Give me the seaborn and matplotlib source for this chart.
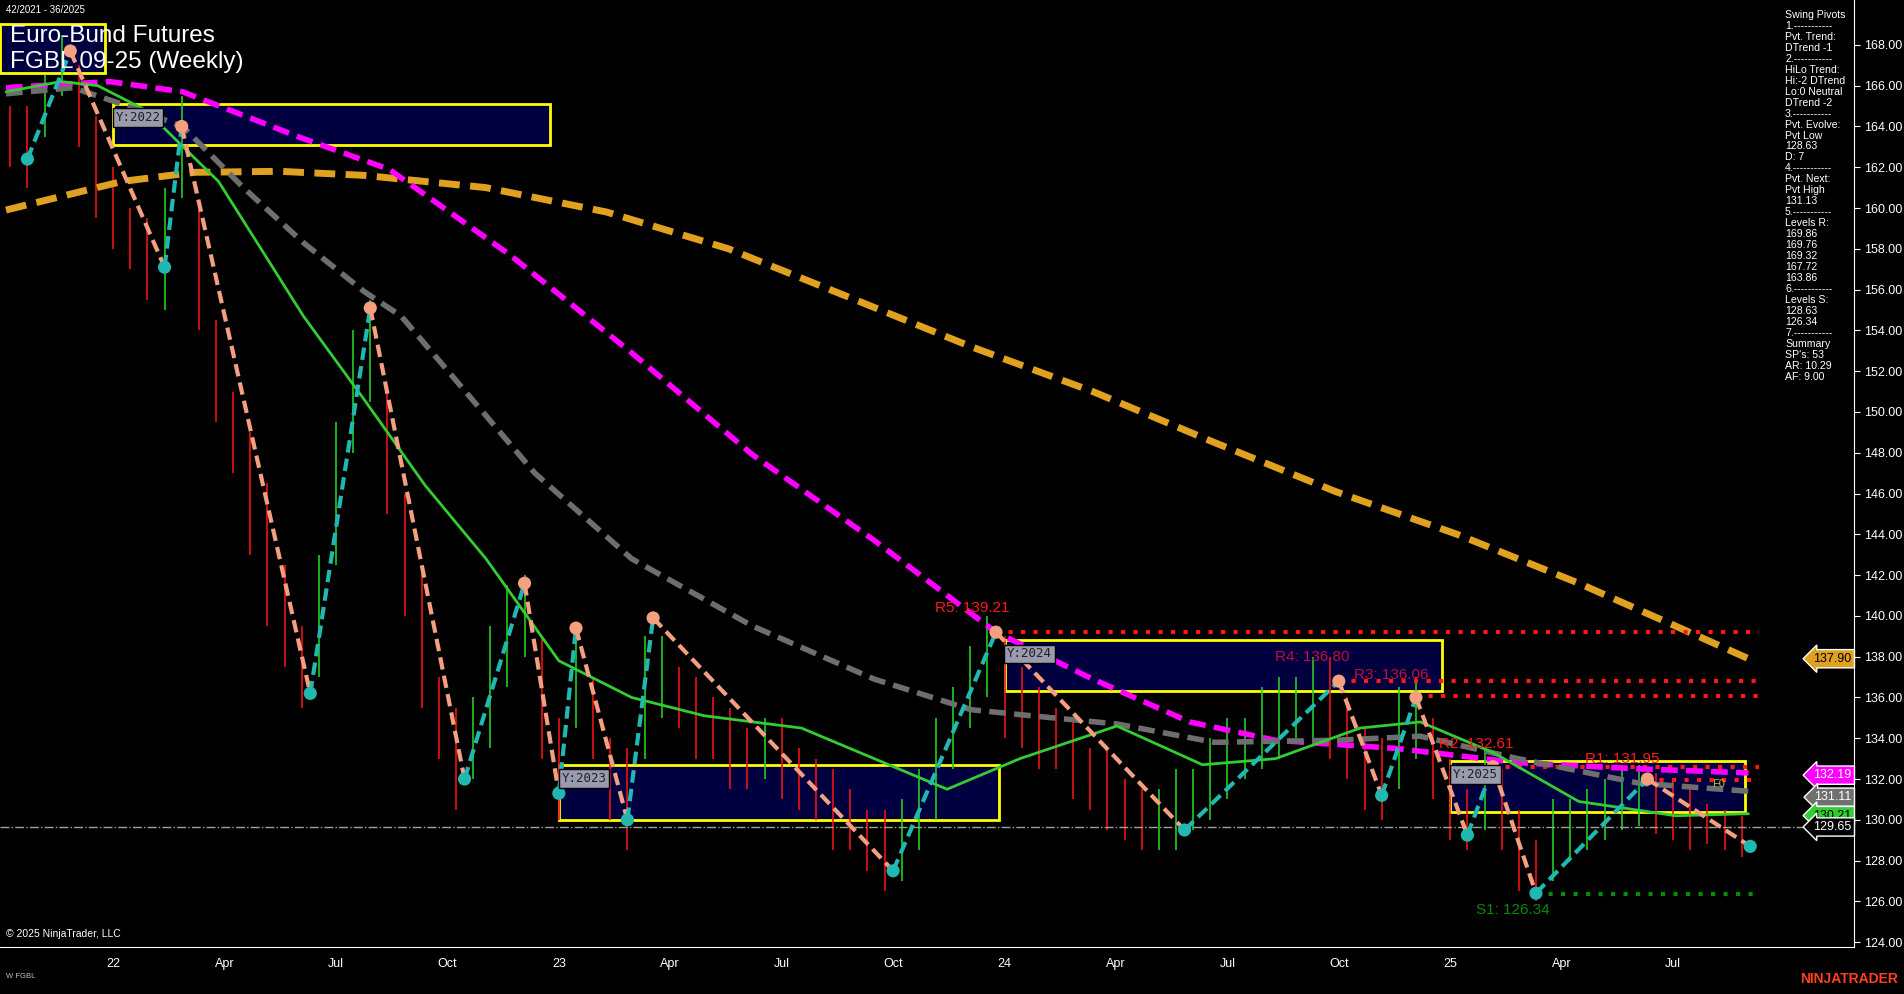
import numpy as np
import matplotlib
matplotlib.use('Agg')
import matplotlib.pyplot as plt
import seaborn as sns

sns.set_style('dark')
plt.rcParams['font.family'] = ['Liberation Sans', 'DejaVu Sans']

# ---- data (x = weeks since start of 2022) ----
bar_weeks = list(range(-12, 191, 2))
bar_mid = [163.5, 163, 165, 167, 165, 162, 160, 158.5, 157.5, 158, 163, 157, 152, 149, 146, 143,
           140, 137.5, 140, 146, 151, 153, 148, 143, 139, 135, 133, 134, 136.5, 139, 140, 136,
           132.5, 137, 135, 132, 131, 136, 137, 136, 135, 134.5, 133.5, 133, 133.5, 133, 132,
           131.5, 130.5, 130, 129, 128.5, 129, 130.5, 132.5, 134.5, 136.5, 138, 136.5, 135.5,
           134.5, 134, 133, 132, 131.5, 130.5, 130, 130, 130.5, 131, 132, 133, 133.5, 134.5,
           135, 135.5, 136, 135.5, 134, 132.5, 132, 134, 135, 133, 131, 130, 131.5, 130.5,
           128.5, 127.5, 129, 129.5, 130, 130.5, 131, 131.2, 130.8, 130.5, 130, 129.8, 129.5, 129.2]
bar_range = [1.5, 2, 1.5, 1.5, 2, 2.5, 2, 1.5, 2, 3, 2.5, 3, 2.5, 2, 3, 3.5,
             2.5, 2, 3, 3.5, 3, 2.5, 3, 3, 3.5, 2, 2.5, 2, 3, 2.5, 2, 3,
             2.5, 2.5, 2, 2, 2.5, 3, 2, 1.5, 2, 1.5, 2, 1.5, 1.5, 2, 1.5,
             1.5, 2, 1.5, 1.5, 2, 2, 2, 2.5, 2, 2, 2, 2.5, 2,
             2, 1.5, 2, 1.5, 2, 1.5, 1.5, 1.5, 2, 1.5, 2, 2, 1.5, 2,
             2, 1.5, 2, 2.5, 2, 2, 2, 2.5, 2, 2, 2, 1.5, 2, 2,
             2, 1.5, 2, 1.5, 1.5, 1.5, 1.5, 1.5, 1.5, 1.5, 1.5, 1, 1, 1]

piv_weeks = [-10, -5, 6, 8, 23, 30, 41, 48, 52, 54, 60, 63, 91, 103, 125, 143, 148, 152, 158, 161, 166, 179, 191]
piv_price = [162.4, 167.7, 157.1, 164.0, 136.2, 155.1, 132.0, 141.6, 131.3, 139.4, 130.0, 139.9, 127.5,
             139.2, 129.5, 136.8, 131.2, 136.0, 129.25, 132.6, 126.4, 132.0, 128.7]
piv_type = ['L', 'H', 'L', 'H', 'L', 'H', 'L', 'H', 'L', 'H', 'L', 'H', 'L', 'H', 'L', 'H', 'L', 'H', 'L', 'H', 'L', 'H', 'L']

mag_w = [-12.5, -0.4, 8.1, 22.2, 32.2, 46.3, 60.5, 74.6, 88.8, 103, 114.3, 125.6, 135.6, 149.7, 163.9, 178, 190.8]
mag_p = [165.9, 166.2, 165.7, 163.4, 161.9, 157.7, 152.9, 147.9, 143.7, 139.2, 136.9, 134.8, 133.9, 133.5, 132.8, 132.5, 132.3]
org_w = [-12.5, 1, 9.5, 19.4, 29.3, 43.5, 57.6, 71.8, 86, 100.1, 114.3, 128.5, 142.6, 156.8, 171, 182.3, 190.8]
org_p = [159.9, 161.3, 161.75, 161.8, 161.6, 161.0, 159.8, 158.0, 155.6, 153.2, 151.0, 148.5, 146.1, 144.0, 141.6, 139.5, 137.9]
gry_w = [-12.5, -4.7, 1, 8.1, 15.2, 22.2, 29.3, 33.6, 40.7, 49.2, 60.5, 74.6, 88.8, 100.1, 107.2, 117.1, 128.5, 142.6, 152.5, 163.9, 178, 190.8]
gry_p = [165.6, 165.9, 165.1, 164.0, 161.0, 158.3, 155.9, 154.7, 151.2, 147.0, 142.8, 139.5, 136.9, 135.4, 135.1, 134.7, 133.8, 133.9, 134.1, 133.0, 131.8, 131.4]
grn_w = [-12.5, -6.1, -1.8, 3.8, 12.3, 22.2, 29.3, 36.4, 43.5, 52, 60.5, 69, 80.3, 88.8, 97.3, 105.8, 117.1, 127.1, 135.6, 145.5, 152.5, 161, 171, 182.3, 190.8]
grn_p = [165.7, 166.2, 166.0, 164.8, 161.3, 154.7, 150.6, 146.4, 142.8, 137.8, 136.0, 135.1, 134.5, 133.0, 131.5, 133.0, 134.6, 132.7, 133.0, 134.5, 134.8, 133.3, 130.9, 130.2, 130.3]

# yearly boxes: (label, week start, week end, low, high)
year_boxes = [('Y:2021', -13.2, -0.9, 166.6, 169.0), ('Y:2022', 0, 51, 163.1, 165.1),
              ('Y:2023', 52, 103.3, 130.0, 132.7), ('Y:2024', 104, 155, 136.3, 138.8),
              ('Y:2025', 156, 190.4, 130.4, 132.9)]
# levels: (label, value, start week, label week, label price, colour)
levels = [('R5: 139.21', 139.21, 103, 95.9, 140.2, '#ff1a1a'),
          ('R4: 136.80', 136.80, 143, 135.6, 137.8, '#c0103a'),
          ('R3: 136.06', 136.06, 152, 144.8, 136.9, '#c0103a'),
          ('R2: 132.61', 132.61, 161, 154.7, 133.5, '#ff1a1a'),
          ('R1: 131.95', 131.95, 179, 171.7, 132.8, '#ff1a1a'),
          ('S1: 126.34', 126.34, 166, 159, 125.4, '#0a8a0a')]
tags = [('137.90', 137.90, '#e0a020', 'black'), ('132.19', 132.19, '#ff00ff', 'white'),
        ('131.11', 131.11, '#707070', 'white'), ('130.21', 130.21, '#32cd32', 'black'),
        ('129.65', 129.65, 'black', 'white')]
last_price = 129.65
tick_pos = [0, 13, 26, 39, 52, 65, 78, 91, 104, 117, 130, 143, 156, 169, 182]
tick_lab = ['22', 'Apr', 'Jul', 'Oct', '23', 'Apr', 'Jul', 'Oct', '24', 'Apr', 'Jul', 'Oct', '25', 'Apr', 'Jul']
panel_text = ("Swing Pivots\n1.-----------\nPvt. Trend:\nDTrend -1\n2.-----------\nHiLo Trend:\n"
              "Hi:-2 DTrend\nLo:0 Neutral\nDTrend -2\n3.-----------\nPvt. Evolve:\nPvt Low\n128.63\nD: 7\n"
              "4.-----------\nPvt. Next:\nPvt High\n131.13\n5.-----------\nLevels R:\n169.86\n169.76\n169.32\n"
              "167.72\n163.86\n6.-----------\nLevels S:\n128.63\n126.34\n7.-----------\nSummary\nSP's: 53\n"
              "AR: 10.29\nAF: 9.00")

fig = plt.figure(figsize=(19.04, 9.94), dpi=100, facecolor='black')
ax = fig.add_axes([0, 0.047, 0.9737, 0.953])
ax.set_facecolor('black')
XMIN, XMAX = -13.2, 203.1
ax.set_xlim(XMIN, XMAX)
ax.set_ylim(123.75, 170.2)

# year boxes
for lab, x0, x1, lo, hi in year_boxes:
    ax.add_patch(plt.Rectangle((x0, lo), x1 - x0, hi - lo, facecolor='#000040', edgecolor='#ffff00', lw=2, zorder=1))
    if lab != 'Y:2021':
        ax.text(x0 + 0.3, hi - 0.35, lab, family='DejaVu Sans Mono', fontsize=9, color='#202020', va='top',
                bbox=dict(facecolor='#9a9aae', edgecolor='black', pad=2), zorder=8)

# price bars
for i, (w, m, r) in enumerate(zip(bar_weeks, bar_mid, bar_range)):
    up = i > 0 and m >= bar_mid[i - 1]
    ax.vlines(w, m - r, m + r, color='#22cc22' if up else '#ee1111', lw=1.2, zorder=2)

# moving averages
sns.lineplot(x=org_w, y=org_p, ax=ax, color='#e0a020', lw=5, linestyle=(0, (3, 1.5)), zorder=3)
sns.lineplot(x=mag_w, y=mag_p, ax=ax, color='#ff00ff', lw=4, linestyle=(0, (3, 1.5)), zorder=4)
sns.lineplot(x=gry_w, y=gry_p, ax=ax, color='#6e6e6e', lw=4, linestyle=(0, (3, 1.5)), zorder=4)
sns.lineplot(x=grn_w, y=grn_p, ax=ax, color='#33cc33', lw=2, zorder=5)

# zigzag swing lines
for i in range(len(piv_weeks) - 1):
    col = '#f4a080' if piv_type[i] == 'H' else '#20b8b0'
    ax.plot(piv_weeks[i:i + 2], piv_price[i:i + 2], color=col, lw=3, ls=(0, (3, 1.5)), zorder=6)
hi_idx = [i for i, t in enumerate(piv_type) if t == 'H']
lo_idx = [i for i, t in enumerate(piv_type) if t == 'L']
sns.scatterplot(x=[piv_weeks[i] for i in hi_idx], y=[piv_price[i] for i in hi_idx], ax=ax,
                color='#f4a080', s=90, edgecolor='none', zorder=7)
sns.scatterplot(x=[piv_weeks[i] for i in lo_idx], y=[piv_price[i] for i in lo_idx], ax=ax,
                color='#20b8b0', s=90, edgecolor='none', zorder=7)

# levels
for lab, val, ws, lx, ly, col in levels:
    lc = '#0a8a0a' if lab.startswith('S') else '#ff1a1a'
    ax.hlines(val, ws, 192, color=lc, lw=3, linestyles=(0, (1, 2)), zorder=3)
    ax.text(lx, ly, lab, color=col, fontsize=11, zorder=8)
ax.axhline(last_price, color='#a0a0a0', lw=1, ls='-.', zorder=3)
ax.text(186.5, 131.6, 'F0', color='#c8c800', fontsize=8, zorder=8)

# right price tags
for lab, val, fc, tc in tags:
    ax.text(XMAX - 0.3, val, lab, color=tc, fontsize=9, ha='right', va='center', zorder=10,
            bbox=dict(boxstyle='larrow,pad=0.25', facecolor=fc, edgecolor='white', lw=1))

# axes styling
ax.yaxis.tick_right()
ax.set_yticks(np.arange(124, 169, 2))
ax.set_yticklabels([f'{v:.2f}' for v in np.arange(124, 169, 2)], color='white', fontsize=9)
ax.set_xticks(tick_pos)
ax.set_xticklabels(tick_lab, color='white', fontsize=9)
ax.tick_params(colors='white', length=4, direction='out')
ax.grid(False)
for s in ['top', 'left']:
    ax.spines[s].set_visible(False)
ax.spines['right'].set_color('white')
ax.spines['bottom'].set_color('white')
ax.set_xlabel('')
ax.set_ylabel('')

# texts
fig.text(0.003, 0.995, '42/2021 - 36/2025', color='white', fontsize=7, va='top')
fig.text(0.005, 0.975, 'Euro-Bund Futures\nFGBL 09-25 (Weekly)', color='white', fontsize=17.5,
         va='top', linespacing=1.25)
fig.text(0.003, 0.06, '© 2025 NinjaTrader, LLC', color='white', fontsize=7.5, va='center')
fig.text(0.003, 0.018, 'W FGBL', color='#c0c0c0', fontsize=5.5, va='center')
fig.text(0.997, 0.015, 'NINJATRADER', color='#ff4020', fontsize=10, weight='bold', ha='right', va='center')
fig.text(0.9375, 0.99, panel_text, color='white', fontsize=7.6, va='top', linespacing=1.12)

fig.savefig('out.png', dpi=100, facecolor='black')
